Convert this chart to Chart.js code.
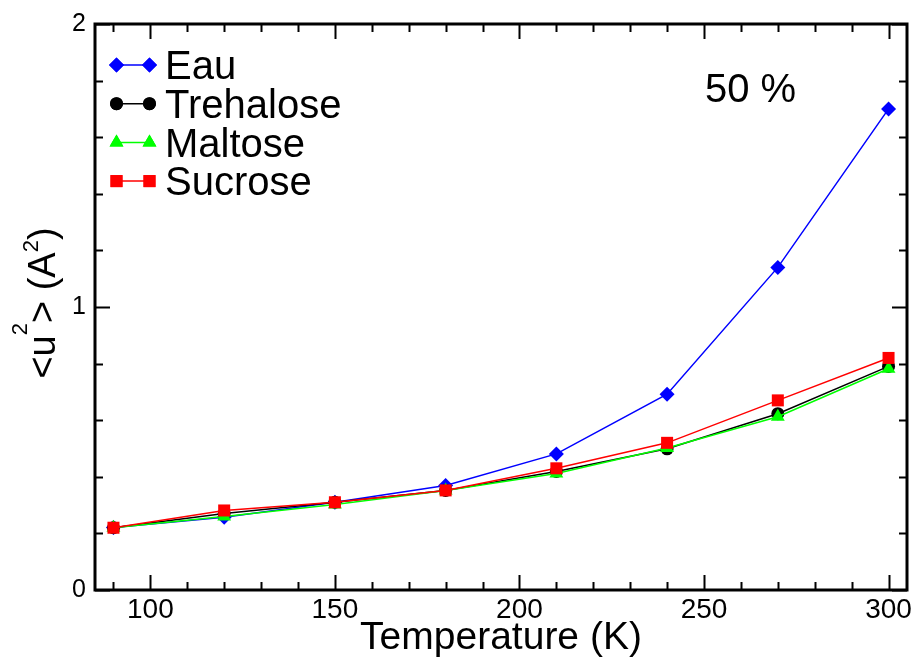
<!DOCTYPE html>
<html lang="fr">
<head>
    <meta charset="UTF-8">
    <title>&lt;u2&gt; vs Temperature - 50 %</title>
    <script src="https://cdn.jsdelivr.net/npm/chart.js"></script>
    <style>
        html, body { margin: 0; padding: 0; background: #fff; }
        #wrap { width: 917px; height: 662px; }
    </style>
</head>
<body>
    <div id="wrap">
        <canvas id="msdChart" width="917" height="662"></canvas>
    </div>
    <script>
        // valeurs
        const temperatures = [90, 120, 150, 180, 210, 240, 270, 300];
        const eau = [0.221, 0.257, 0.310, 0.369, 0.481, 0.692, 1.140, 1.700];
        const trehalose = [0.220, 0.270, 0.310, 0.352, 0.419, 0.499, 0.623, 0.790];
        const maltose = [0.220, 0.260, 0.302, 0.352, 0.412, 0.502, 0.612, 0.782];
        const sucrose = [0.220, 0.281, 0.310, 0.352, 0.430, 0.520, 0.670, 0.820];

        const xMajorTicks = [100, 150, 200, 250, 300];
        const yMajorTicks = [0, 1, 2];

        const FONT = '"Liberation Sans", Arial, Helvetica, sans-serif';

        function toPoints(values) {
            return temperatures.map((t, i) => ({ x: t, y: values[i] }));
        }

        const series = [
            { label: 'Eau', data: eau, color: '#0000ff', style: 'rectRot', radius: 7.5, order: 4 },
            { label: 'Trehalose', data: trehalose, color: '#000000', style: 'circle', radius: 6.5, order: 3 },
            { label: 'Maltose', data: maltose, color: '#00ff00', style: 'triangle', radius: 8, order: 2 },
            { label: 'Sucrose', data: sucrose, color: '#ff0000', style: 'rect', radius: 8.5, order: 1 }
        ];

        // cadre, graduations internes, légende, titre y, annotation
        const decorPlugin = {
            id: 'decor',
            afterDraw(chart) {
                const ctx = chart.ctx;
                const area = chart.chartArea;
                const xs = chart.scales.x;
                const ys = chart.scales.y;
                ctx.save();

                ctx.strokeStyle = '#000';
                ctx.lineWidth = 2;
                ctx.beginPath();
                for (let v = 90; v <= 300; v += 10) {
                    const px = Math.round(xs.getPixelForValue(v)) + 0.5;
                    const len = v % 50 === 0 ? 15 : 8;
                    ctx.moveTo(px, area.bottom);
                    ctx.lineTo(px, area.bottom - len);
                    ctx.moveTo(px, area.top);
                    ctx.lineTo(px, area.top + len);
                }
                for (let k = 0; k <= 10; k++) {
                    const v = k * 0.2;
                    const py = Math.round(ys.getPixelForValue(v)) + 0.5;
                    const len = k % 5 === 0 ? 15 : 8;
                    ctx.moveTo(area.left, py);
                    ctx.lineTo(area.left + len, py);
                    ctx.moveTo(area.right, py);
                    ctx.lineTo(area.right - len, py);
                }
                ctx.stroke();

                ctx.lineWidth = 3;
                ctx.strokeRect(area.left, area.top, area.right - area.left, area.bottom - area.top);

                // légende
                ctx.textBaseline = 'alphabetic';
                ctx.textAlign = 'left';
                ctx.font = '40px ' + FONT;
                series.forEach((s, i) => {
                    const y = 65 + i * 38.7;
                    ctx.strokeStyle = s.color;
                    ctx.lineWidth = 1.5;
                    ctx.beginPath();
                    ctx.moveTo(112, y);
                    ctx.lineTo(154, y);
                    ctx.stroke();
                    ctx.fillStyle = s.color;
                    [116.5, 149.5].forEach(mx => {
                        Chart.helpers.drawPoint(ctx, {
                            pointStyle: s.style, radius: s.radius, borderWidth: 0, rotation: 0
                        }, mx, y);
                        ctx.fill();
                    });
                    ctx.fillStyle = '#000';
                    ctx.fillText(s.label, 165, y + 14.3);
                });

                ctx.font = '40px ' + FONT;
                ctx.fillText('50 %', 705, 101.5);

                // titre de l'axe y avec exposants
                const parts = [
                    { t: '<u', size: 38, rise: 0 },
                    { t: '2', size: 22, rise: 28 },
                    { t: '> (A', size: 38, rise: 0 },
                    { t: '2', size: 22, rise: 17 },
                    { t: ')', size: 38, rise: 0 }
                ];
                let total = 0;
                parts.forEach(p => {
                    ctx.font = p.size + 'px ' + FONT;
                    p.w = ctx.measureText(p.t).width;
                    total += p.w;
                });
                ctx.translate(55, 303);
                ctx.rotate(-Math.PI / 2);
                let cx = -total / 2;
                parts.forEach(p => {
                    ctx.font = p.size + 'px ' + FONT;
                    ctx.fillText(p.t, cx, -p.rise);
                    cx += p.w;
                });

                ctx.restore();
            }
        };

        const ctx = document.getElementById('msdChart').getContext('2d');
        const msdChart = new Chart(ctx, {
            type: 'line',
            data: {
                datasets: series.map(s => ({
                    label: s.label,
                    data: toPoints(s.data),
                    borderColor: s.color,
                    backgroundColor: s.color,
                    borderWidth: 1.5,
                    pointStyle: s.style,
                    pointRadius: s.radius,
                    pointBorderWidth: 0,
                    pointBackgroundColor: s.color,
                    tension: 0,
                    order: s.order
                }))
            },
            options: {
                responsive: false,
                devicePixelRatio: 1,
                animation: false,
                layout: { padding: { top: 21, right: 10, left: 0, bottom: 0 } },
                plugins: {
                    legend: { display: false },
                    tooltip: { enabled: false }
                },
                scales: {
                    x: {
                        type: 'linear',
                        min: 85,
                        max: 305,
                        grid: { display: false, drawTicks: false },
                        border: { display: false },
                        afterFit(scale) { scale.height = 72; },
                        afterBuildTicks(scale) {
                            scale.ticks = xMajorTicks.map(v => ({ value: v }));
                        },
                        ticks: {
                            autoSkip: false,
                            maxRotation: 0,
                            padding: 3,
                            color: '#000',
                            font: { family: FONT, size: 28 }
                        },
                        title: {
                            display: true,
                            text: 'Temperature (K)',
                            color: '#000',
                            font: { family: FONT, size: 39 },
                            padding: { top: 0, bottom: 0 }
                        }
                    },
                    y: {
                        min: 0,
                        max: 2,
                        grid: { display: false, drawTicks: false },
                        border: { display: false },
                        afterFit(scale) { scale.width = 95; },
                        afterBuildTicks(scale) {
                            scale.ticks = yMajorTicks.map(v => ({ value: v }));
                        },
                        ticks: {
                            padding: 9,
                            color: '#000',
                            font: { family: FONT, size: 25 }
                        }
                    }
                }
            },
            plugins: [decorPlugin]
        });
    </script>
</body>
</html>
